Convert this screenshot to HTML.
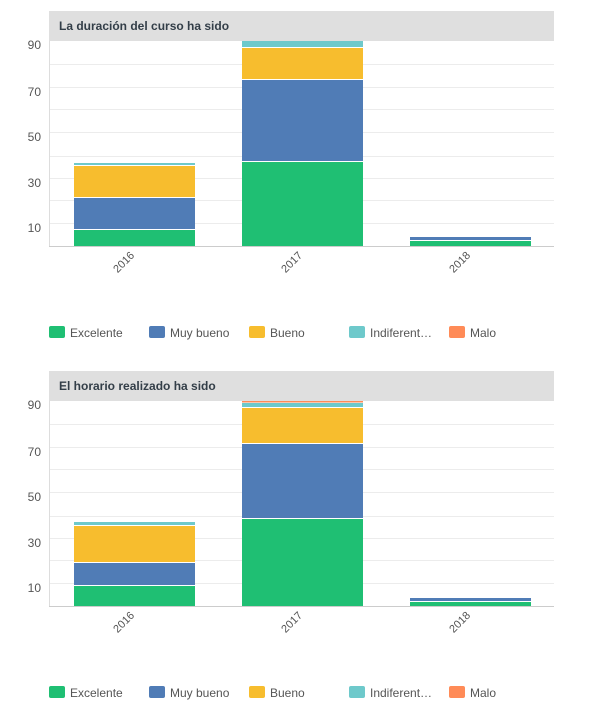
<!DOCTYPE html>
<html><head><meta charset="utf-8"><style>
body{margin:0;background:#fff;}
svg{display:block;font-family:"Liberation Sans",sans-serif;}
</style></head><body>
<svg width="611" height="717" viewBox="0 0 611 717" xmlns="http://www.w3.org/2000/svg">
<g id="c1">
<rect x="49" y="11" width="505" height="30" fill="#dfdfdf"/>
<text x="59" y="30" font-size="12" font-weight="bold" fill="#333e48">La duración del curso ha sido</text>
<g stroke="#ececec" stroke-width="1">
<line x1="49" x2="554" y1="64.5" y2="64.5"/><line x1="49" x2="554" y1="87.5" y2="87.5"/>
<line x1="49" x2="554" y1="109.5" y2="109.5"/><line x1="49" x2="554" y1="132.5" y2="132.5"/>
<line x1="49" x2="554" y1="156.5" y2="156.5"/><line x1="49" x2="554" y1="178.5" y2="178.5"/>
<line x1="49" x2="554" y1="200.5" y2="200.5"/><line x1="49" x2="554" y1="223.5" y2="223.5"/>
</g>
<line x1="49.5" x2="49.5" y1="41" y2="246" stroke="#ddd"/>
<line x1="49" x2="554" y1="246.5" y2="246.5" stroke="#ccc"/>
<g font-size="12" fill="#555" text-anchor="end">
<text x="41" y="49">90</text><text x="41" y="96">70</text><text x="41" y="141">50</text><text x="41" y="187">30</text><text x="41" y="232">10</text>
</g>
<rect x="74" y="230" width="121" height="16" fill="#1fbf73"/>
<rect x="74" y="198" width="121" height="31" fill="#507cb6"/>
<rect x="74" y="166" width="121" height="31" fill="#f7bd2e"/>
<rect x="74" y="163" width="121" height="2" fill="#6ec9cb"/>
<rect x="242" y="162" width="121" height="84" fill="#1fbf73"/>
<rect x="242" y="80" width="121" height="81" fill="#507cb6"/>
<rect x="242" y="48" width="121" height="31" fill="#f7bd2e"/>
<rect x="242" y="41" width="121" height="6" fill="#6ec9cb"/>
<rect x="410" y="241" width="121" height="5" fill="#1fbf73"/>
<rect x="410" y="237" width="121" height="3" fill="#507cb6"/>
<g font-size="11" fill="#555" text-anchor="end">
<text transform="translate(135,256) rotate(-45)">2016</text>
<text transform="translate(303,256) rotate(-45)">2017</text>
<text transform="translate(471,256) rotate(-45)">2018</text>
</g>
<g font-size="12" fill="#555">
<rect x="49" y="326" width="16" height="12" rx="2" fill="#1fbf73"/><text x="70" y="337">Excelente</text>
<rect x="149" y="326" width="16" height="12" rx="2" fill="#507cb6"/><text x="170" y="337">Muy bueno</text>
<rect x="249" y="326" width="16" height="12" rx="2" fill="#f7bd2e"/><text x="270" y="337">Bueno</text>
<rect x="349" y="326" width="16" height="12" rx="2" fill="#6ec9cb"/><text x="370" y="337">Indiferent…</text>
<rect x="449" y="326" width="16" height="12" rx="2" fill="#ff8b57"/><text x="470" y="337">Malo</text>
</g>
</g>
<g id="c2" transform="translate(0,360)">
<rect x="49" y="11" width="505" height="30" fill="#dfdfdf"/>
<text x="59" y="30" font-size="12" font-weight="bold" fill="#333e48">El horario realizado ha sido</text>
<g stroke="#ececec" stroke-width="1">
<line x1="49" x2="554" y1="64.5" y2="64.5"/><line x1="49" x2="554" y1="87.5" y2="87.5"/>
<line x1="49" x2="554" y1="109.5" y2="109.5"/><line x1="49" x2="554" y1="132.5" y2="132.5"/>
<line x1="49" x2="554" y1="156.5" y2="156.5"/><line x1="49" x2="554" y1="178.5" y2="178.5"/>
<line x1="49" x2="554" y1="200.5" y2="200.5"/><line x1="49" x2="554" y1="223.5" y2="223.5"/>
</g>
<line x1="49.5" x2="49.5" y1="41" y2="246" stroke="#ddd"/>
<line x1="49" x2="554" y1="246.5" y2="246.5" stroke="#ccc"/>
<g font-size="12" fill="#555" text-anchor="end">
<text x="41" y="49">90</text><text x="41" y="96">70</text><text x="41" y="141">50</text><text x="41" y="187">30</text><text x="41" y="232">10</text>
</g>
<rect x="74" y="226" width="121" height="20" fill="#1fbf73"/>
<rect x="74" y="203" width="121" height="22" fill="#507cb6"/>
<rect x="74" y="166" width="121" height="36" fill="#f7bd2e"/>
<rect x="74" y="162" width="121" height="3" fill="#6ec9cb"/>
<rect x="242" y="159" width="121" height="87" fill="#1fbf73"/>
<rect x="242" y="84" width="121" height="74" fill="#507cb6"/>
<rect x="242" y="48" width="121" height="35" fill="#f7bd2e"/>
<rect x="242" y="43" width="121" height="4" fill="#6ec9cb"/>
<rect x="242" y="41" width="121" height="1.5" fill="#ff8b57"/>
<rect x="410" y="242" width="121" height="4" fill="#1fbf73"/>
<rect x="410" y="238" width="121" height="3" fill="#507cb6"/>
<g font-size="11" fill="#555" text-anchor="end">
<text transform="translate(135,256) rotate(-45)">2016</text>
<text transform="translate(303,256) rotate(-45)">2017</text>
<text transform="translate(471,256) rotate(-45)">2018</text>
</g>
<g font-size="12" fill="#555">
<rect x="49" y="326" width="16" height="12" rx="2" fill="#1fbf73"/><text x="70" y="337">Excelente</text>
<rect x="149" y="326" width="16" height="12" rx="2" fill="#507cb6"/><text x="170" y="337">Muy bueno</text>
<rect x="249" y="326" width="16" height="12" rx="2" fill="#f7bd2e"/><text x="270" y="337">Bueno</text>
<rect x="349" y="326" width="16" height="12" rx="2" fill="#6ec9cb"/><text x="370" y="337">Indiferent…</text>
<rect x="449" y="326" width="16" height="12" rx="2" fill="#ff8b57"/><text x="470" y="337">Malo</text>
</g>
</g>
</svg>
</body></html>
